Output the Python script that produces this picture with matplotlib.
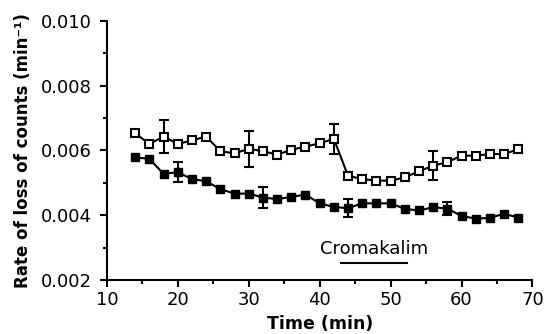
import matplotlib
matplotlib.use("Agg")
import matplotlib.pyplot as plt
from matplotlib.ticker import MultipleLocator

plt.rcParams['font.family'] = ['DejaVu Sans']

times = [14, 16, 18, 20, 22, 24, 26, 28, 30, 32, 34, 36, 38, 40,
         42, 44, 46, 48, 50, 52, 54, 56, 58, 60, 62, 64, 66, 68]
control = [0.00653, 0.00620, 0.00643, 0.00620, 0.00631, 0.00643, 0.00598,
           0.00591, 0.00605, 0.00598, 0.00587, 0.00602, 0.00612, 0.00622,
           0.00636, 0.00522, 0.00512, 0.00507, 0.00507, 0.00517, 0.00536,
           0.00553, 0.00564, 0.00584, 0.00584, 0.00589, 0.00589, 0.00604]
treated = [0.00579, 0.00574, 0.00528, 0.00533, 0.00512, 0.00505, 0.00481,
           0.00467, 0.00467, 0.00455, 0.00450, 0.00457, 0.00464, 0.00437,
           0.00426, 0.00422, 0.00437, 0.00437, 0.00437, 0.00420, 0.00415,
           0.00425, 0.00421, 0.00398, 0.00390, 0.00392, 0.00405, 0.00393]
control_err_times = [18, 30, 42, 56]
control_err = [0.00052, 0.00056, 0.00047, 0.00044]
treated_err_times = [20, 32, 44, 58]
treated_err = [0.00031, 0.00033, 0.00027, 0.00020]
drug_label = "Cromakalim"
drug_start, drug_end = 43, 52.3

fig = plt.figure(figsize=(5.45, 3.34), dpi=100)
ax = fig.add_axes([0.196, 0.161, 0.781, 0.777])

ce_y = [control[times.index(t)] for t in control_err_times]
te_y = [treated[times.index(t)] for t in treated_err_times]
ax.errorbar(control_err_times, ce_y, yerr=control_err, fmt='none',
            ecolor='black', elinewidth=1.5, capsize=3.5, capthick=1.5, zorder=2)
ax.errorbar(treated_err_times, te_y, yerr=treated_err, fmt='none',
            ecolor='black', elinewidth=1.5, capsize=3.5, capthick=1.5, zorder=2)

ax.plot(times, control, color='black', lw=1.5, marker='s', ms=5.5,
        mfc='white', mec='black', mew=1.5, zorder=3)
ax.plot(times, treated, color='black', lw=1.5, marker='s', ms=5.5,
        mfc='black', mec='black', mew=1.0, zorder=3)

ax.plot([drug_start, drug_end], [0.00252, 0.00252], color='black', lw=1.5)
ax.text((drug_start + drug_end) / 2, 0.00296, drug_label, ha='center',
        va='center', fontsize=13)

ax.set_xlim(10, 70)
ax.set_ylim(0.002, 0.010)
ax.xaxis.set_major_locator(MultipleLocator(10))
ax.xaxis.set_minor_locator(MultipleLocator(5))
ax.yaxis.set_major_locator(MultipleLocator(0.002))
ax.yaxis.set_minor_locator(MultipleLocator(0.001))
ax.yaxis.set_major_formatter(matplotlib.ticker.FormatStrFormatter('%.3f'))

for s in ['top', 'right']:
    ax.spines[s].set_visible(False)
for s in ['left', 'bottom']:
    ax.spines[s].set_linewidth(1.5)
ax.tick_params(which='major', direction='out', length=5, width=1.5,
               labelsize=13)
ax.tick_params(which='minor', direction='out', length=3, width=1.5)
ax.tick_params(axis='y', pad=6)
ax.tick_params(axis='x', pad=3)

ax.set_xlabel('Time (min)', fontsize=12.5, fontweight='bold', labelpad=4)
ax.set_ylabel('Rate of loss of counts (min\u207b\u00b9)', fontsize=12,
              fontweight='bold', labelpad=6)

fig.savefig('out.png', dpi=100)
